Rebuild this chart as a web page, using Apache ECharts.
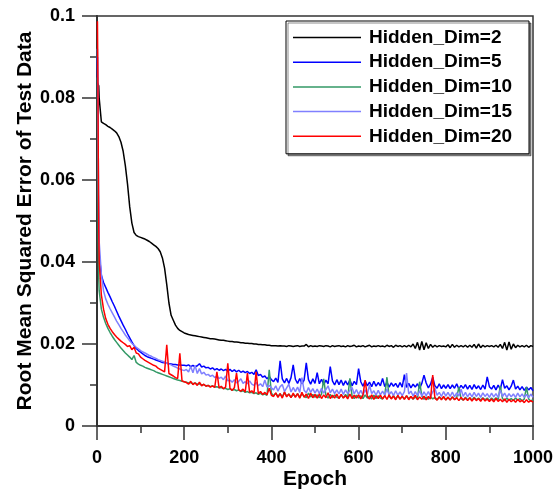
<!DOCTYPE html>
<html><head><meta charset="utf-8">
<script src="https://cdn.jsdelivr.net/npm/echarts@6/dist/echarts.min.js"></script>
<style>html,body{margin:0;padding:0;background:#fff}#c{width:560px;height:489px}</style>
</head><body><div id="c"></div>
<script>
const epochs = [1,2,3,4,
5,10,15,20,25,30,35,40,45,50,
55,60,65,70,75,80,85,90,95,100,
105,110,115,120,125,130,135,140,145,150,
155,160,165,170,175,180,185,190,195,200,
205,210,215,220,225,230,235,240,245,250,
255,260,265,270,275,280,285,290,295,300,
305,310,315,320,325,330,335,340,345,350,
355,360,365,370,375,380,385,390,395,400,
405,410,415,420,425,430,435,440,445,450,
455,460,465,470,475,480,485,490,495,500,
505,510,515,520,525,530,535,540,545,550,
555,560,565,570,575,580,585,590,595,600,
605,610,615,620,625,630,635,640,645,650,
655,660,665,670,675,680,685,690,695,700,
705,710,715,720,725,730,735,740,745,750,
755,760,765,770,775,780,785,790,795,800,
805,810,815,820,825,830,835,840,845,850,
855,860,865,870,875,880,885,890,895,900,
905,910,915,920,925,930,935,940,945,950,
955,960,965,970,975,980,985,990,995,1000];

const seriesNames = ['Hidden_Dim=2','Hidden_Dim=5','Hidden_Dim=10','Hidden_Dim=15','Hidden_Dim=20'];

const dim2 = [.0837,.0836,.0834,.0830,
.0800,.0742,.0738,.0735,.0731,.0728,.0724,.0720,.0715,.0706,
.0692,.0670,.0635,.0590,.0535,.0495,.0472,.0465,.0462,.0460,
.0458,.0456,.0453,.0450,.0446,.0442,.0438,.0433,.0425,.0410,
.0385,.0345,.0300,.0270,.0258,.0246,.0238,.0233,.0230,.0227,
.0225,.0223,.0222,.0221,.0220,.0219,.0218,.0217,.0216,.0215,
.0214,.0213,.0213,.0212,.0211,.0210,.0209,.0209,.0208,.0207,
.0206,.0206,.0205,.0205,.0204,.0203,.0203,.0202,.0202,.0201,
.0201,.0200,.0200,.0199,.0199,.0198,.0198,.0197,.0197,.0196,
.0196,.0196,.0195,.0196,.0195,.0195,.0194,.0196,.0195,.0194,
.0195,.0196,.0194,.0195,.0195,.0199,.0193,.0196,.0194,.0195,
.0194,.0196,.0195,.0194,.0196,.0195,.0193,.0196,.0194,.0195,
.0196,.0194,.0195,.0193,.0196,.0194,.0195,.0197,.0193,.0195,
.0194,.0196,.0193,.0195,.0197,.0193,.0195,.0194,.0196,.0194,
.0195,.0193,.0197,.0194,.0196,.0192,.0197,.0194,.0196,.0193,
.0196,.0193,.0197,.0193,.0200,.0189,.0204,.0185,.0206,.0186,
.0203,.0189,.0199,.0192,.0197,.0193,.0196,.0194,.0195,.0193,
.0198,.0191,.0199,.0192,.0197,.0193,.0196,.0193,.0197,.0192,
.0197,.0192,.0199,.0190,.0200,.0191,.0197,.0193,.0196,.0194,
.0196,.0193,.0197,.0192,.0199,.0189,.0204,.0185,.0205,.0187,
.0200,.0191,.0197,.0193,.0196,.0193,.0197,.0192,.0196,.0194];

const dim5 = [.0900,.0720,.0560,.0470,
.0420,.0368,.0350,.0338,.0326,.0315,.0303,.0292,.0280,.0268,
.0257,.0246,.0236,.0225,.0215,.0205,.0196,.0189,.0184,.0180,
.0176,.0172,.0169,.0167,.0165,.0163,.0161,.0159,.0157,.0155,
.0154,.0153,.0152,.0151,.0150,.0150,.0149,.0149,.0148,.0148,
.0147,.0149,.0145,.0148,.0144,.0147,.0152,.0144,.0146,.0142,
.0143,.0139,.0142,.0137,.0140,.0136,.0139,.0135,.0138,.0134,
.0138,.0133,.0137,.0132,.0136,.0131,.0134,.0130,.0133,.0128,
.0131,.0126,.0137,.0123,.0126,.0119,.0122,.0115,.0121,.0113,
.0108,.0117,.0106,.0159,.0115,.0105,.0116,.0104,.0118,.0149,
.0114,.0104,.0116,.0103,.0112,.0154,.0113,.0102,.0115,.0104,
.0130,.0103,.0114,.0101,.0112,.0103,.0145,.0110,.0100,.0113,
.0101,.0112,.0099,.0110,.0100,.0113,.0098,.0109,.0101,.0140,
.0108,.0097,.0110,.0098,.0107,.0096,.0109,.0097,.0106,.0098,
.0116,.0096,.0107,.0095,.0105,.0097,.0104,.0094,.0106,.0095,
.0125,.0094,.0104,.0093,.0102,.0095,.0103,.0092,.0104,.0124,
.0105,.0093,.0102,.0119,.0098,.0092,.0103,.0091,.0100,.0092,
.0101,.0091,.0100,.0092,.0103,.0090,.0099,.0092,.0101,.0090,
.0099,.0089,.0101,.0091,.0098,.0089,.0100,.0090,.0120,.0096,
.0090,.0099,.0088,.0100,.0089,.0113,.0092,.0098,.0088,.0097,
.0112,.0090,.0097,.0088,.0096,.0087,.0095,.0088,.0094,.0086];

const dim10 = [.0850,.0600,.0450,.0360,
.0330,.0285,.0265,.0250,.0238,.0228,.0219,.0211,.0204,.0197,
.0190,.0184,.0178,.0173,.0168,.0162,.0172,.0155,.0151,.0148,
.0146,.0143,.0141,.0139,.0137,.0135,.0132,.0130,.0128,.0126,
.0124,.0122,.0120,.0118,.0116,.0114,.0112,.0111,.0109,.0108,
.0107,.0105,.0106,.0103,.0105,.0102,.0103,.0100,.0101,.0098,
.0099,.0096,.0098,.0095,.0096,.0093,.0094,.0091,.0092,.0089,
.0091,.0087,.0089,.0086,.0088,.0084,.0086,.0082,.0084,.0081,
.0082,.0079,.0081,.0077,.0080,.0076,.0078,.0075,.0137,.0080,
.0074,.0080,.0072,.0079,.0071,.0082,.0073,.0078,.0070,.0077,
.0072,.0079,.0070,.0078,.0073,.0069,.0080,.0071,.0077,.0070,
.0076,.0069,.0078,.0115,.0075,.0068,.0077,.0069,.0076,.0070,
.0068,.0076,.0069,.0077,.0068,.0116,.0073,.0067,.0075,.0068,
.0074,.0067,.0076,.0068,.0073,.0066,.0075,.0067,.0074,.0068,
.0066,.0074,.0119,.0072,.0067,.0074,.0066,.0073,.0067,.0072,
.0066,.0073,.0067,.0072,.0065,.0071,.0066,.0108,.0073,.0065,
.0071,.0065,.0072,.0066,.0070,.0064,.0071,.0066,.0070,.0064,
.0070,.0064,.0071,.0065,.0069,.0095,.0067,.0063,.0070,.0064,
.0069,.0063,.0070,.0064,.0068,.0063,.0069,.0064,.0068,.0062,
.0068,.0063,.0069,.0064,.0098,.0067,.0062,.0068,.0063,.0067,
.0062,.0068,.0063,.0067,.0061,.0066,.0095,.0066,.0061,.0064];

const dim15 = [.0920,.0800,.0650,.0530,
.0450,.0370,.0330,.0310,.0297,.0286,.0276,.0266,.0256,.0247,
.0238,.0230,.0222,.0215,.0208,.0202,.0197,.0192,.0188,.0184,
.0181,.0178,.0175,.0172,.0170,.0167,.0165,.0162,.0160,.0158,
.0156,.0153,.0151,.0149,.0146,.0144,.0141,.0139,.0137,.0135,
.0138,.0132,.0145,.0130,.0148,.0128,.0140,.0127,.0131,.0124,
.0126,.0121,.0124,.0118,.0122,.0116,.0119,.0113,.0122,.0110,
.0112,.0107,.0113,.0105,.0109,.0115,.0104,.0108,.0103,.0110,
.0102,.0099,.0106,.0098,.0103,.0096,.0112,.0095,.0099,.0093,
.0088,.0098,.0085,.0096,.0101,.0084,.0093,.0102,.0083,.0094,
.0084,.0095,.0082,.0118,.0087,.0081,.0094,.0082,.0091,.0080,
.0090,.0079,.0092,.0080,.0089,.0098,.0081,.0090,.0079,.0088,
.0078,.0090,.0077,.0088,.0079,.0087,.0094,.0078,.0089,.0077,
.0087,.0076,.0088,.0077,.0100,.0079,.0086,.0075,.0087,.0076,
.0085,.0075,.0090,.0076,.0084,.0074,.0086,.0075,.0083,.0074,
.0084,.0129,.0078,.0085,.0073,.0084,.0074,.0086,.0073,.0083,
.0074,.0084,.0072,.0083,.0092,.0075,.0082,.0072,.0084,.0073,
.0082,.0072,.0083,.0071,.0081,.0073,.0090,.0072,.0082,.0071,
.0080,.0071,.0082,.0072,.0080,.0070,.0081,.0072,.0079,.0070,
.0080,.0071,.0079,.0070,.0088,.0072,.0080,.0070,.0079,.0071,
.0078,.0070,.0080,.0071,.0078,.0070,.0077,.0069,.0078,.0070];

const dim20 = [.0987,.0850,.0650,.0480,
.0400,.0320,.0285,.0262,.0248,.0238,.0230,.0223,.0217,.0212,
.0207,.0203,.0199,.0194,.0196,.0186,.0192,.0178,.0176,.0168,
.0164,.0160,.0157,.0154,.0151,.0148,.0146,.0141,.0138,.0135,
.0132,.0198,.0128,.0125,.0122,.0118,.0116,.0177,.0110,.0108,
.0106,.0102,.0109,.0101,.0105,.0099,.0107,.0098,.0102,.0097,
.0099,.0095,.0098,.0094,.0132,.0093,.0097,.0091,.0095,.0153,
.0092,.0087,.0093,.0129,.0088,.0085,.0090,.0083,.0129,.0082,
.0086,.0080,.0132,.0079,.0084,.0077,.0082,.0076,.0092,.0075,
.0072,.0081,.0070,.0079,.0068,.0083,.0071,.0078,.0069,.0080,
.0070,.0079,.0068,.0082,.0070,.0078,.0067,.0080,.0069,.0077,
.0068,.0078,.0067,.0076,.0069,.0081,.0067,.0075,.0068,.0078,
.0067,.0077,.0068,.0074,.0066,.0078,.0067,.0075,.0068,.0076,
.0066,.0075,.0112,.0072,.0066,.0076,.0065,.0074,.0067,.0075,
.0066,.0074,.0065,.0076,.0066,.0073,.0064,.0075,.0065,.0073,
.0065,.0074,.0064,.0072,.0066,.0075,.0064,.0071,.0065,.0073,
.0064,.0072,.0066,.0124,.0068,.0063,.0071,.0064,.0072,.0063,
.0070,.0063,.0071,.0064,.0069,.0062,.0070,.0063,.0068,.0062,
.0069,.0061,.0068,.0062,.0067,.0060,.0068,.0061,.0066,.0060,
.0066,.0059,.0067,.0060,.0065,.0059,.0066,.0058,.0065,.0059,
.0064,.0058,.0065,.0059,.0063,.0057,.0064,.0058,.0062,.0058];

const seriesValues = [dim2, dim5, dim10, dim15, dim20];
const seriesColors = ['#000000','#0000ff','#339966','#8080ff','#ff0000'];

const FONT = "'Liberation Sans', Arial, Helvetica, sans-serif";
const chart = echarts.init(document.getElementById('c'), null, {renderer:'canvas'});
const axisCol = '#333';

chart.setOption({
  animation: false,
  backgroundColor: '#fff',
  grid: {left: 97, right: 27, top: 16, bottom: 63, show: true, borderColor: axisCol, borderWidth: 1.5,
         backgroundColor: 'transparent', containLabel: false, outerBoundsMode: 'none'},
  legend: {
    orient: 'vertical', left: 286, top: 21,
    icon: 'rect',
    itemWidth: 68, itemHeight: 1.5, itemGap: 5.7,
    padding: [7, 8, 8, 7],
    backgroundColor: '#fff', borderColor: '#000', borderWidth: 1,
    shadowColor: 'rgba(0,0,0,0.45)', shadowOffsetX: 2, shadowOffsetY: 2, shadowBlur: 0,
    textStyle: {fontFamily: FONT, fontWeight: 'bold', fontSize: 19, color: '#000', width: 152, lineHeight: 19, padding: [0, 0, 0, 3]},
    data: seriesNames
  },
  xAxis: {
    type: 'value', min: 0, max: 1000, interval: 200,
    name: 'Epoch', nameLocation: 'middle', nameGap: 43, nameMoveOverlap: false,
    nameTextStyle: {fontFamily: FONT, fontWeight: 'bold', fontSize: 21, color: '#000'},
    axisLine: {show: true, onZero: false, lineStyle: {color: axisCol, width: 2}},
    axisTick: {show: true, inside: false, length: 14, lineStyle: {color: axisCol, width: 1.5}},
    minorTick: {show: true, splitNumber: 2, length: 7, lineStyle: {color: axisCol, width: 1.5}},
    axisLabel: {fontFamily: FONT, fontWeight: 'bold', fontSize: 18, color: '#000', margin: 23, formatter: v => String(v)},
    splitLine: {show: false}
  },
  yAxis: {
    type: 'value', min: 0, max: 0.1, interval: 0.02,
    name: 'Root Mean Squared Error of Test Data', nameLocation: 'middle', nameGap: 61, nameMoveOverlap: false,
    nameTextStyle: {fontFamily: FONT, fontWeight: 'bold', fontSize: 21, color: '#000'},
    axisLine: {show: true, onZero: false, lineStyle: {color: axisCol, width: 2}},
    axisTick: {show: true, inside: false, length: 15, lineStyle: {color: axisCol, width: 1.5}},
    minorTick: {show: true, splitNumber: 2, length: 7, lineStyle: {color: axisCol, width: 1.5}},
    axisLabel: {fontFamily: FONT, fontWeight: 'bold', fontSize: 18, color: '#000', margin: 22},
    splitLine: {show: false}
  },
  series: seriesNames.map((name, k) => ({
    name: name,
    type: 'line',
    data: epochs.map((e, i) => [e, seriesValues[k][i]]),
    symbol: 'none', showSymbol: false,
    color: seriesColors[k],
    lineStyle: {color: seriesColors[k], width: 1.5},
    clip: true
  }))
});
</script>
</body></html>
